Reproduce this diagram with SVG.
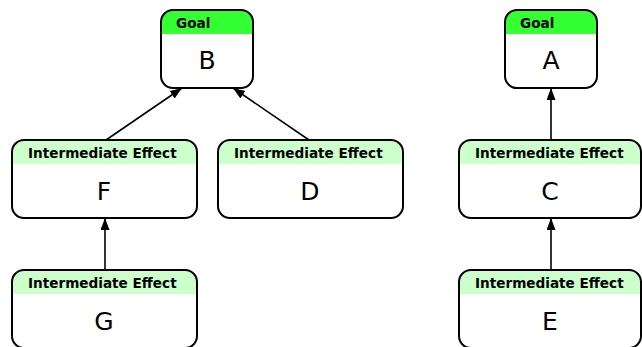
<svg xmlns="http://www.w3.org/2000/svg" width="642" height="347" viewBox="0 0 642 347">
<defs>
<style>
.bg{fill:#ffffff;stroke:none}
.box{fill:none;stroke:#000;stroke-width:2}
.hg{fill:#33ff33}
.hi{fill:#ccffcc}
.ht{font-family:"DejaVu Sans",sans-serif;font-weight:bold;font-size:13.6px;fill:#000}
.big{font-family:"DejaVu Sans",sans-serif;font-size:25px;fill:#000;text-anchor:middle}
.edge{stroke:#000;stroke-width:1.6;fill:none;marker-end:url(#arr)}
</style>
<marker id="arr" markerUnits="userSpaceOnUse" markerWidth="13" markerHeight="10" refX="12" refY="4.5" orient="auto">
<path d="M0,0 L12,4.5 L0,9 Z" fill="#000"/>
</marker>
</defs>
<rect width="642" height="347" fill="#fff"/>
<g id="connectors">
<line class="edge" x1="106" y1="140" x2="182" y2="88"/>
<line class="edge" x1="309" y1="140" x2="233" y2="88"/>
<line class="edge" x1="551" y1="140" x2="551" y2="88"/>
<line class="edge" x1="105" y1="270" x2="105" y2="218"/>
<line class="edge" x1="551" y1="270" x2="551" y2="218"/>
</g>
<g id="node-B" transform="translate(161,10)">
<rect class="bg" x="0" y="0" width="92" height="78" rx="12"/>
<path class="hg" d="M0,24 V12 A12,12 0 0 1 12,0 H80 A12,12 0 0 1 92,12 V24 Z"/>
<rect class="box" x="0" y="0" width="92" height="78" rx="12"/>
<text class="ht" x="15" y="18">Goal</text>
<text class="big" x="46" y="59">B</text>
</g>
<g id="node-A" transform="translate(505,10)">
<rect class="bg" x="0" y="0" width="92" height="78" rx="12"/>
<path class="hg" d="M0,24 V12 A12,12 0 0 1 12,0 H80 A12,12 0 0 1 92,12 V24 Z"/>
<rect class="box" x="0" y="0" width="92" height="78" rx="12"/>
<text class="ht" x="15" y="18">Goal</text>
<text class="big" x="46" y="59">A</text>
</g>
<g id="node-F" transform="translate(12,140)">
<rect class="bg" x="0" y="0" width="185" height="78" rx="12"/>
<path class="hi" d="M0,24 V12 A12,12 0 0 1 12,0 H173 A12,12 0 0 1 185,12 V24 Z"/>
<rect class="box" x="0" y="0" width="185" height="78" rx="12"/>
<text class="ht" x="16" y="18">Intermediate Effect</text>
<text class="big" x="92" y="60">F</text>
</g>
<g id="node-D" transform="translate(218,140)">
<rect class="bg" x="0" y="0" width="185" height="78" rx="12"/>
<path class="hi" d="M0,24 V12 A12,12 0 0 1 12,0 H173 A12,12 0 0 1 185,12 V24 Z"/>
<rect class="box" x="0" y="0" width="185" height="78" rx="12"/>
<text class="ht" x="16" y="18">Intermediate Effect</text>
<text class="big" x="92" y="60">D</text>
</g>
<g id="node-C" transform="translate(459,140)">
<rect class="bg" x="0" y="0" width="182" height="78" rx="12"/>
<path class="hi" d="M0,24 V12 A12,12 0 0 1 12,0 H170 A12,12 0 0 1 182,12 V24 Z"/>
<rect class="box" x="0" y="0" width="182" height="78" rx="12"/>
<text class="ht" x="16" y="18">Intermediate Effect</text>
<text class="big" x="91" y="60">C</text>
</g>
<g id="node-G" transform="translate(12,270)">
<rect class="bg" x="0" y="0" width="185" height="78" rx="12"/>
<path class="hi" d="M0,24 V12 A12,12 0 0 1 12,0 H173 A12,12 0 0 1 185,12 V24 Z"/>
<rect class="box" x="0" y="0" width="185" height="78" rx="12"/>
<text class="ht" x="16" y="18">Intermediate Effect</text>
<text class="big" x="92" y="60">G</text>
</g>
<g id="node-E" transform="translate(459,270)">
<rect class="bg" x="0" y="0" width="182" height="78" rx="12"/>
<path class="hi" d="M0,24 V12 A12,12 0 0 1 12,0 H170 A12,12 0 0 1 182,12 V24 Z"/>
<rect class="box" x="0" y="0" width="182" height="78" rx="12"/>
<text class="ht" x="16" y="18">Intermediate Effect</text>
<text class="big" x="91" y="60">E</text>
</g>
</svg>
